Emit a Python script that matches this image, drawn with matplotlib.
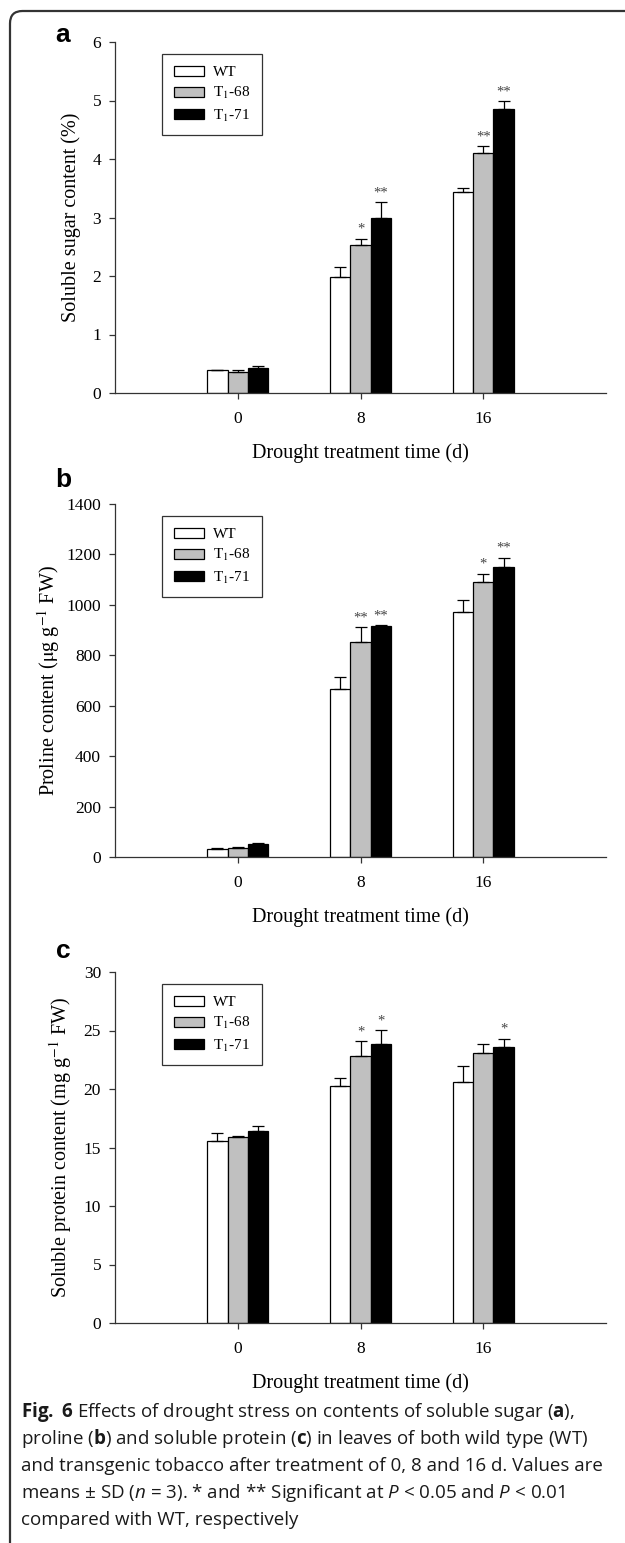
import matplotlib
matplotlib.use('Agg')
import matplotlib.pyplot as plt
import numpy as np
from matplotlib.patches import FancyBboxPatch
from matplotlib.font_manager import FontProperties

# drought days on the x axis
days = ['0', '8', '16']
genotypes = ['WT', 'T$_1$-68', 'T$_1$-71']
fills = ['white', '#c0c0c0', 'black']

# soluble sugar (%) -- rows: WT, T1-68, T1-71
sugar_mean = [[0.39, 1.99, 3.43], [0.36, 2.53, 4.11], [0.42, 3.00, 4.85]]
sugar_sd = [[0.01, 0.16, 0.08], [0.04, 0.11, 0.11], [0.04, 0.26, 0.14]]
sugar_sig = [['', '', ''], ['', '*', '**'], ['', '**', '**']]

# proline (ug g-1 FW)
proline_mean = [[32, 665, 970], [37, 854, 1092], [53, 916, 1150]]
proline_sd = [[3, 47, 49], [3, 57, 32], [1, 4, 37]]
proline_sig = [['', '', ''], ['', '**', '*'], ['', '**', '**']]

# soluble protein (mg g-1 FW)
protein_mean = [[15.56, 20.23, 20.60], [15.92, 22.82, 23.10], [16.41, 23.82, 23.62]]
protein_sd = [[0.65, 0.74, 1.37], [0.06, 1.25, 0.72], [0.45, 1.22, 0.68]]
protein_sig = [['', '', ''], ['', '*', ''], ['', '*', '*']]

plt.rcParams['mathtext.fontset'] = 'custom'
plt.rcParams['mathtext.rm'] = 'Open Sans'
plt.rcParams['mathtext.it'] = 'Open Sans:italic'
plt.rcParams['mathtext.bf'] = 'Open Sans:bold'

serif = 'Liberation Serif'
W, H = 625, 1543
fig = plt.figure(figsize=(W / 100, H / 100), dpi=100)


def draw_panel(rect, means, sds, sigs, ymax, ystep, ylabel, ylab_x, letter, letter_y):
    ax = fig.add_axes(rect)
    x = np.arange(len(days))
    width = 0.167
    for i in range(len(genotypes)):
        pos = x + (i - 1) * width
        ax.bar(pos, means[i], width, color=fills[i], edgecolor='black',
               linewidth=0.9, label=genotypes[i], zorder=2)
        ax.errorbar(pos, means[i], yerr=[np.zeros(len(days)), sds[i]], fmt='none',
                    ecolor='black', elinewidth=0.9, capsize=4.5, capthick=0.9, zorder=3)
        for j in range(len(days)):
            if sigs[i][j]:
                ax.annotate(sigs[i][j], (pos[j], means[i][j] + sds[i][j]),
                            xytext=(0, 2), textcoords='offset points',
                            ha='center', va='bottom', fontsize=10.5,
                            family=serif, color='#444444')
    ax.set_xlim(-1, 3)
    ax.set_ylim(0, ymax)
    ax.set_xticks(x)
    ax.set_xticklabels(days)
    ax.set_yticks(np.arange(0, ymax + ystep / 2, ystep))
    for s in ['top', 'right']:
        ax.spines[s].set_visible(False)
    for s in ['left', 'bottom']:
        ax.spines[s].set_linewidth(0.9)
        ax.spines[s].set_color('#333333')
    ax.tick_params(axis='both', direction='out', length=4, width=0.9,
                   color='#333333', labelsize=12.5)
    ax.tick_params(axis='x', pad=9)
    ax.tick_params(axis='y', pad=6)
    for lab in ax.get_xticklabels() + ax.get_yticklabels():
        lab.set_family(serif)
    ax.set_xlabel('Drought treatment time (d)', family=serif, fontsize=14.5, labelpad=12)
    ax.set_ylabel(ylabel, family=serif, fontsize=14.5, va='center', math_fontfamily='stix')
    ax.yaxis.set_label_coords(ylab_x, 0.5)
    leg_prop = FontProperties(family=serif, size=11, math_fontfamily='stix')
    leg = ax.legend(loc='upper left', bbox_to_anchor=(0.096, 0.965), prop=leg_prop,
                    fancybox=False, edgecolor='#333333', framealpha=1,
                    handlelength=2.0, handleheight=0.65, handletextpad=0.6,
                    labelspacing=0.4, borderpad=0.75, borderaxespad=0)
    leg.get_frame().set_linewidth(0.9)
    fig.text(63 / W, 1 - letter_y / H, letter, family='Liberation Sans',
             weight='bold', fontsize=19, ha='center', va='center')
    return ax


def rect_from_px(top, bottom):
    return [115 / W, 1 - bottom / H, 491 / W, (bottom - top) / H]


draw_panel(rect_from_px(42, 393), sugar_mean, sugar_sd, sugar_sig, 6, 1,
           'Soluble sugar content (%)', -0.09, 'a', 35)
draw_panel(rect_from_px(504, 857), proline_mean, proline_sd, proline_sig, 1400, 200,
           r'Proline content ($\mathrm{\mu}$g g$^{-1}$ FW)', -0.135, 'b', 480)
draw_panel(rect_from_px(972, 1323), protein_mean, protein_sd, protein_sig, 30, 5,
           r'Soluble protein content (mg g$^{-1}$ FW)', -0.11, 'c', 951)

# rounded frame, open to the right and bottom
frame = FancyBboxPatch((10 / W, -0.1), 1.2, 1 - 11 / H + 0.1,
                       boxstyle='round,pad=0,rounding_size=0.02',
                       transform=fig.transFigure, facecolor='none',
                       edgecolor='#333333', linewidth=1.6,
                       mutation_aspect=W / H)
fig.patches.append(frame)

caption = [
    r'$\mathbf{Fig.\ 6}$ Effects of drought stress on contents of soluble sugar ($\mathbf{a}$),',
    r'proline ($\mathbf{b}$) and soluble protein ($\mathbf{c}$) in leaves of both wild type (WT)',
    'and transgenic tobacco after treatment of 0, 8 and 16 d. Values are',
    r'means $\pm$ SD ($\mathit{n}$ = 3). * and ** Significant at $\mathit{P}$ < 0.05 and $\mathit{P}$ < 0.01',
    'compared with WT, respectively',
]
for k, line in enumerate(caption):
    fig.text(21 / W, 1 - (1412 + 27 * k) / H, line, family='Open Sans',
             fontsize=13.5, ha='left', va='center', color='#1a1a1a')

fig.savefig('out.png', dpi=100)
